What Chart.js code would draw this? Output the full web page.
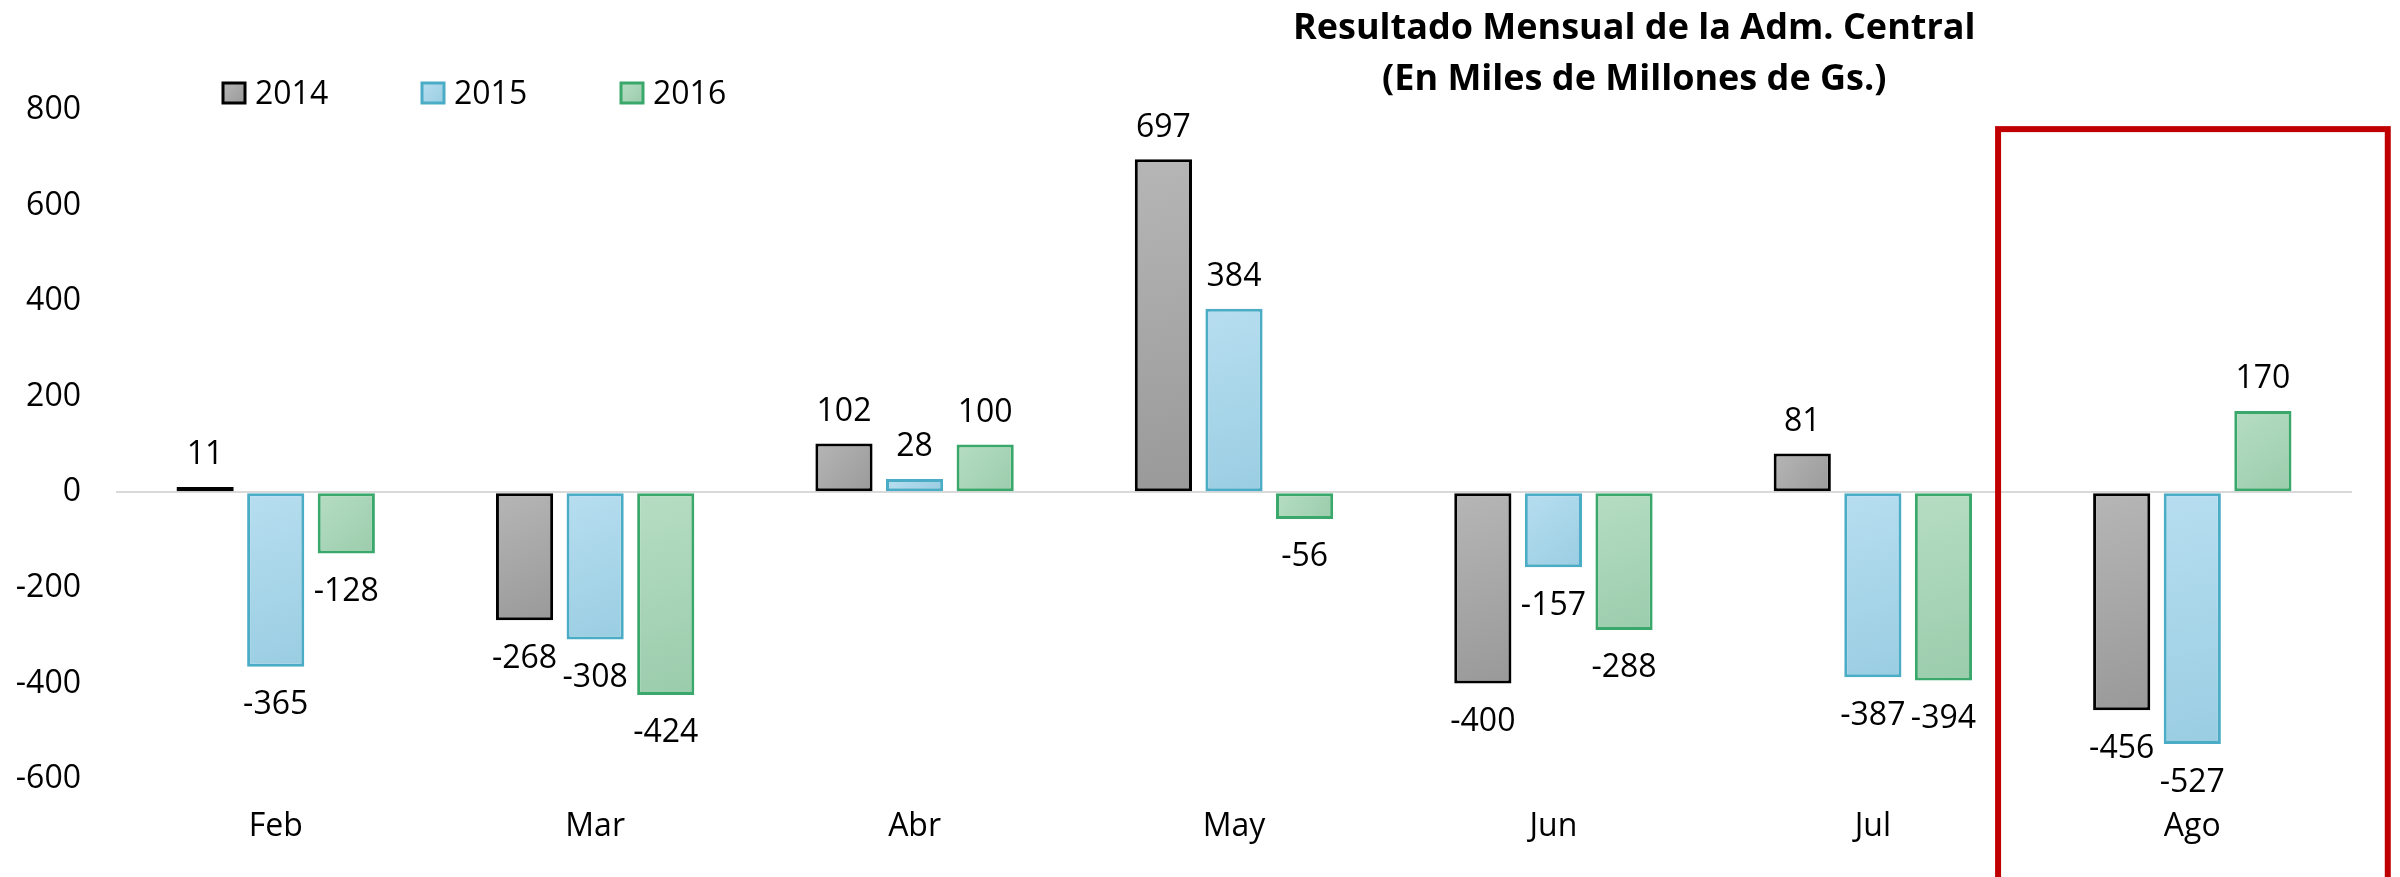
<!DOCTYPE html>
<html>
<head>
<meta charset="utf-8">
<script src="https://cdn.jsdelivr.net/npm/chart.js@4"></script>
<style>
  body { margin: 0; background: #fff; }
  #wrap { width: 2400px; height: 877px; position: relative; }
</style>
</head>
<body>
<div id="wrap"><canvas id="chart"></canvas></div>
<script>
// data
const months = ['Feb', 'Mar', 'Abr', 'May', 'Jun', 'Jul', 'Ago'];
const years = ['2014', '2015', '2016'];
const values2014 = [11, -268, 102, 697, -400, 81, -456];
const values2015 = [-365, -308, 28, 384, -157, -387, -527];
const values2016 = [-128, -424, 100, -56, -288, -394, 170];
const yTicks = [-600, -400, -200, 0, 200, 400, 600, 800];
const titleLines = ['Resultado Mensual de la Adm. Central', '(En Miles de Millones de Gs.)'];
const highlightMonth = 'Ago';

// styling
const fills = [['#b6b6b6', '#999999'], ['#b7def0', '#9acde2'], ['#b6ddc3', '#9accab']];
const borders = ['#000000', '#4bacc6', '#3aa86b'];
const FONT = '"Open Sans", "Noto Sans", sans-serif';
const FS = 32;

function barFill(i) {
  return function(ctx) {
    const chart = ctx.chart;
    const xs = chart.scales.x, ys = chart.scales.y;
    if (ctx.type !== 'data' || !xs || !ys || !chart.chartArea) return fills[i][0];
    const step = xs.getPixelForValue(1) - xs.getPixelForValue(0);
    const bx = xs.getPixelForValue(ctx.dataIndex) + (i - 1) * step * 0.221;
    const v = ctx.raw;
    const y1 = ys.getPixelForValue(Math.max(v, 0));
    const y2 = ys.getPixelForValue(Math.min(v, 0));
    const g = chart.ctx.createLinearGradient(bx - 30, y1, bx + 30, y2 + 1);
    g.addColorStop(0, fills[i][0]);
    g.addColorStop(1, fills[i][1]);
    return g;
  };
}

const seriesValues = [values2014, values2015, values2016];
const datasets = years.map((y, i) => ({
  label: y,
  data: seriesValues[i],
  backgroundColor: barFill(i),
  borderColor: borders[i],
  borderWidth: 3,
  borderSkipped: false,
  categoryPercentage: 0.663,
  barPercentage: 0.81
}));

// value labels outside bar ends
const valueLabels = {
  id: 'valueLabels',
  afterDatasetsDraw(chart) {
    const ctx = chart.ctx;
    ctx.save();
    ctx.font = FS + 'px ' + FONT;
    ctx.fillStyle = '#000';
    ctx.textAlign = 'center';
    ctx.textBaseline = 'alphabetic';
    const half = FS * 0.357;
    chart.data.datasets.forEach((ds, di) => {
      chart.getDatasetMeta(di).data.forEach((bar, i) => {
        const v = ds.data[i];
        const cy = v >= 0 ? bar.y - 34 : bar.y + 36;
        ctx.fillText(String(v), bar.x, cy + half);
      });
    });
    ctx.restore();
  }
};

// title and legend drawn at the top, plus highlight frame
const decorations = {
  id: 'decorations',
  afterDraw(chart) {
    const ctx = chart.ctx;
    const area = chart.chartArea;
    const xs = chart.scales.x, ys = chart.scales.y;
    ctx.save();
    // title
    ctx.font = 'bold 36px ' + FONT;
    ctx.fillStyle = '#000';
    ctx.textAlign = 'center';
    ctx.textBaseline = 'alphabetic';
    const tx = area.left + (area.right - area.left) * 0.679;
    titleLines.forEach((t, k) => ctx.fillText(t, tx, 26 + k * 51 + 13));
    // legend
    ctx.font = FS + 'px ' + FONT;
    ctx.textAlign = 'left';
    const ly = area.top - 17;
    years.forEach((y, i) => {
      const lx = area.left + 107 + i * 199;
      const g = ctx.createLinearGradient(lx, ly - 10, lx + 22, ly + 10);
      g.addColorStop(0, fills[i][0]);
      g.addColorStop(1, fills[i][1]);
      ctx.fillStyle = g;
      ctx.fillRect(lx, ly - 10, 22, 20);
      ctx.strokeStyle = borders[i];
      ctx.lineWidth = 3;
      ctx.strokeRect(lx, ly - 10, 22, 20);
      ctx.fillStyle = '#000';
      ctx.fillText(y, lx + 32, ly + FS * 0.357);
    });
    // red frame around highlighted month
    const idx = months.indexOf(highlightMonth);
    const step = xs.getPixelForValue(1) - xs.getPixelForValue(0);
    const cx = xs.getPixelForValue(idx);
    const top = ys.getPixelForValue(760);
    ctx.strokeStyle = '#c00000';
    ctx.lineWidth = 6;
    ctx.strokeRect(cx - step * 0.608, top, step * 1.22, chart.height - top + 20);
    ctx.restore();
  }
};

new Chart(document.getElementById('chart'), {
  type: 'bar',
  data: { labels: months, datasets: datasets },
  options: {
    responsive: true,
    maintainAspectRatio: false,
    animation: false,
    layout: { padding: { top: 110, left: 16, right: 48, bottom: 0 } },
    plugins: {
      legend: { display: false },
      title: { display: false },
      tooltip: { enabled: false }
    },
    scales: {
      x: {
        afterFit(axis) { axis.height = 98; },
        grid: { display: false, drawTicks: false },
        border: { display: false },
        ticks: { color: '#000', font: { family: FONT, size: FS }, padding: 29 }
      },
      y: {
        min: -600,
        max: 800,
        afterFit(axis) { axis.width = 100; },
        afterBuildTicks(axis) { axis.ticks = yTicks.map(v => ({ value: v })); },
        grid: {
          drawTicks: false,
          lineWidth: 2,
          color: c => (c.tick && c.tick.value === 0 ? '#d9d9d9' : 'rgba(0,0,0,0)')
        },
        border: { display: false },
        ticks: { color: '#000', font: { family: FONT, size: FS }, padding: 35 }
      }
    }
  },
  plugins: [valueLabels, decorations]
});
</script>
</body>
</html>
